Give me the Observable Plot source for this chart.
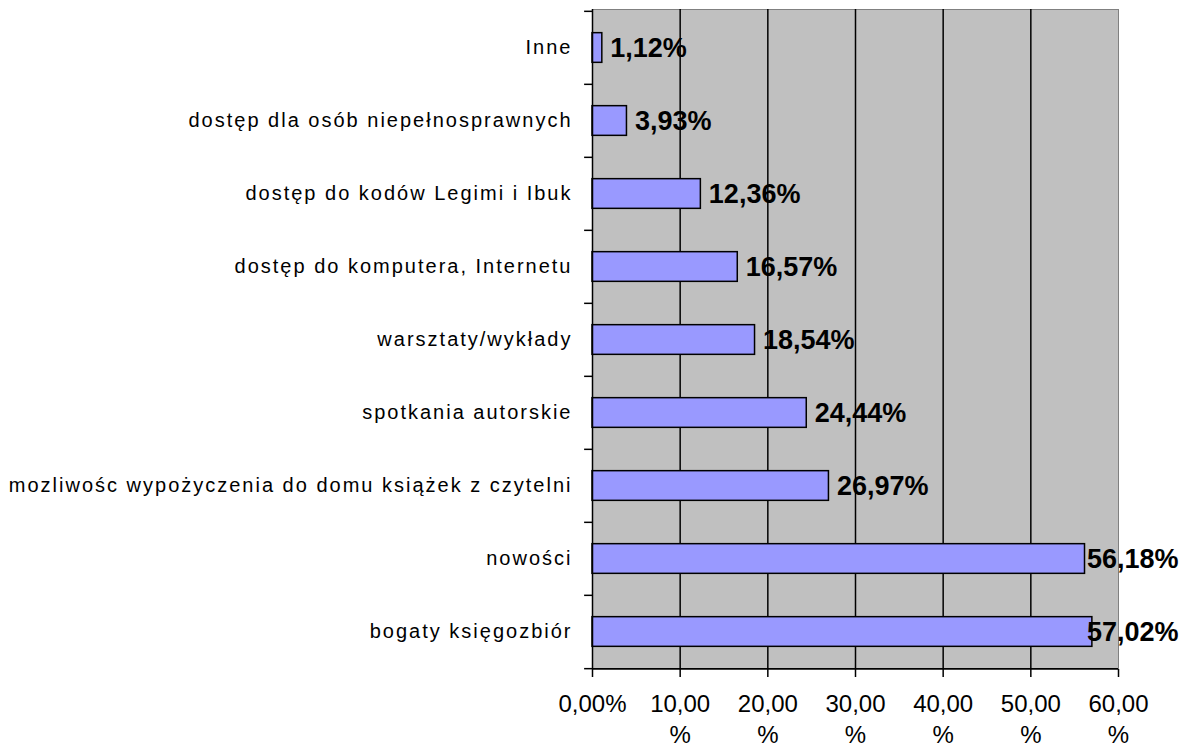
<!DOCTYPE html>
<html>
<head>
<meta charset="utf-8">
<script src="https://cdn.jsdelivr.net/npm/d3@7"></script>
<script src="https://cdn.jsdelivr.net/npm/@observablehq/plot@0.6"></script>
<style>
  html, body { margin: 0; padding: 0; background: #fff; }
  #chart svg { display: block; }
</style>
</head>
<body>
<div id="chart"></div>
<script>
const categories = [
  "Inne",
  "dostęp dla osób niepełnosprawnych",
  "dostęp do kodów Legimi i Ibuk",
  "dostęp do komputera, Internetu",
  "warsztaty/wykłady",
  "spotkania autorskie",
  "mozliwośc wypożyczenia do domu książek z czytelni",
  "nowości",
  "bogaty księgozbiór"
];
const values = [1.12, 3.93, 12.36, 16.57, 18.54, 24.44, 26.97, 56.18, 57.02];
const xTicks = [0, 10, 20, 30, 40, 50, 60];
const xTickLabels = ["0,00%", "10,00\n%", "20,00\n%", "30,00\n%", "40,00\n%", "50,00\n%", "60,00\n%"];

const data = categories.map((c, i) => ({ cat: c, v: values[i], label: values[i].toFixed(2).replace(".", ",") + "%" }));

const W = 1188, H = 747;
const mTop = 9, mBottom = 78, mLeft = 592, mRight = 70;
const step = (H - mTop - mBottom) / categories.length;
const barH = 30;
const inset = (step - barH) / 2;
const fmtTick = d => xTickLabels[xTicks.indexOf(d)];

const chart = Plot.plot({
  width: W,
  height: H,
  marginTop: mTop,
  marginBottom: mBottom,
  marginLeft: mLeft,
  marginRight: mRight,
  style: { fontFamily: "'Liberation Sans', Arial, sans-serif", background: "#fff", overflow: "visible" },
  x: { domain: [0, 60], axis: null },
  y: { domain: categories, padding: 0, axis: null },
  marks: [
    Plot.frame({ fill: "#c0c0c0", stroke: "#808080", strokeWidth: 1 }),
    Plot.ruleX(xTicks.slice(1, -1), { stroke: "#000", strokeWidth: 1.5 }),
    Plot.barX(data, { x: "v", y: "cat", fill: "#9999ff", stroke: "#000", strokeWidth: 1.5, insetTop: inset, insetBottom: inset }),
    Plot.ruleX([0], { stroke: "#000", strokeWidth: 1.5 }),
    Plot.ruleY(categories, { y: d => d, x1: -0.9, x2: 0, dy: -step / 2, stroke: "#000", strokeWidth: 1.5 }),
    Plot.ruleY(categories.slice(-1), { y: d => d, x1: -0.9, x2: 0, dy: step / 2, stroke: "#000", strokeWidth: 1.5 }),
    Plot.ruleY(categories.slice(-1), { y: d => d, x1: 0, x2: 60, dy: step / 2, stroke: "#000", strokeWidth: 1.5 }),
    Plot.axisX({ ticks: xTicks, tickFormat: fmtTick, label: null, tickSize: 8, tickPadding: 12, fontSize: 24, lineHeight: 1.3, stroke: "#000", strokeWidth: 1.5, color: "#000" }),
    Plot.text(categories, { y: d => d, x: 0, text: d => d, textAnchor: "end", dx: -20, fontSize: 20, fill: "#000" }),
    Plot.text(data.filter(d => d.v < 50), { x: "v", y: "cat", text: "label", textAnchor: "start", dx: 8, fontSize: 27, fontWeight: "bold", fill: "#000" }),
    Plot.text(data.filter(d => d.v >= 50), { frameAnchor: "right", y: "cat", text: "label", textAnchor: "end", dx: 60, fontSize: 27, fontWeight: "bold", fill: "#000" })
  ]
});
d3.select(chart).selectAll("text")
  .filter(function () { return categories.includes(this.textContent); })
  .attr("letter-spacing", "2px");
document.getElementById("chart").appendChild(chart);
</script>
</body>
</html>
